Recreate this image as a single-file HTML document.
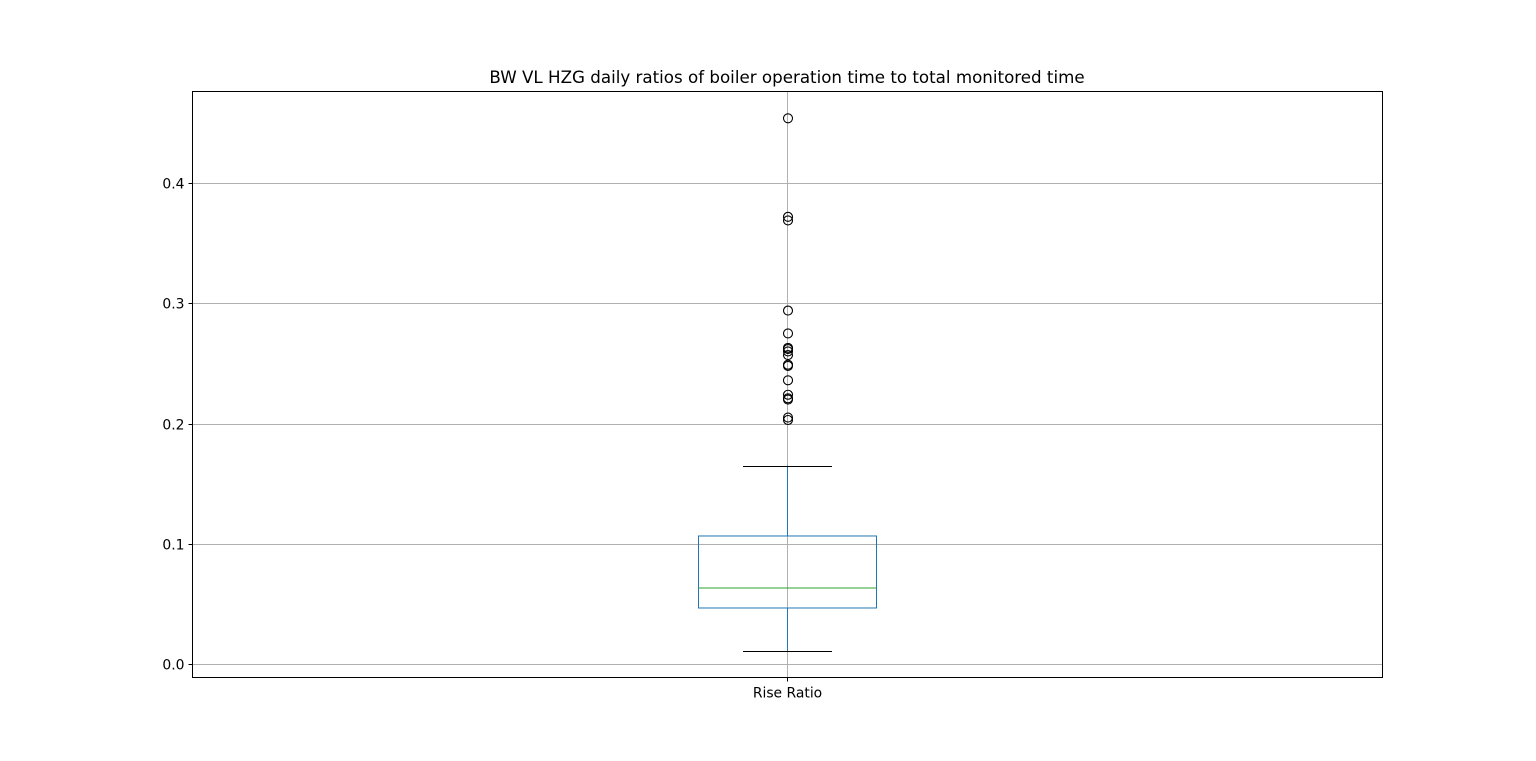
<!DOCTYPE html>
<html><head><meta charset="utf-8"><style>
body{margin:0;background:#fff;}
svg{display:block;font-family:"DejaVu Sans","Liberation Sans",sans-serif;}
</style></head><body>
<svg id="chart" width="1536" height="761">
<text x="787" y="83" text-anchor="middle" font-size="16.7">BW VL HZG daily ratios of boiler operation time to total monitored time</text>
<g id="grid"></g>
<g id="marks"></g>
<rect x="192.5" y="91.5" width="1190" height="586" fill="none" stroke="#000" stroke-width="1"/>
<g id="axes"></g>
</svg>
<script>
const categories = ["Rise Ratio"];
const yTicks = [0.0, 0.1, 0.2, 0.3, 0.4];
const yTickLabels = ["0.0", "0.1", "0.2", "0.3", "0.4"];
const whiskerLow = [0.011];
const q1 = [0.0466];
const median = [0.0632];
const q3 = [0.1065];
const whiskerHigh = [0.165];
const outliers = [0.454, 0.372, 0.369, 0.294, 0.275, 0.263, 0.262, 0.260, 0.257, 0.249, 0.248, 0.236, 0.224, 0.221, 0.220, 0.205, 0.203];

const NS = "http://www.w3.org/2000/svg";
const L = 192.5, R = 1382.5, T = 91.5, B = 677.5;
const y0px = 664, perUnit = 1202;
function yScale(v){ return y0px - v * perUnit; }
function xScale(i){ return L + (R - L) * (i + 0.5) / categories.length; }
function mk(tag, attrs, parent){ const e = document.createElementNS(NS, tag); for (const k in attrs) e.setAttribute(k, attrs[k]); parent.appendChild(e); return e; }

const grid = document.getElementById('grid'), marks = document.getElementById('marks'), axes = document.getElementById('axes');
yTicks.forEach((t, i) => {
  const y = Math.round(yScale(t)) + 0.5;
  const g = mk('line', {x1: L, x2: R, y1: y, y2: y, stroke: '#b0b0b0', 'stroke-width': 1}, grid);
  
  
  const tk = mk('line', {x1: L - 4, x2: L, y1: y, y2: y, stroke: '#000'}, axes);
  
  
  const lb = mk('text', {x: L - 8, y: y + 5, 'text-anchor': 'end', 'font-size': 13.9}, axes);
  lb.textContent = yTickLabels[i];
  
  
});
categories.forEach((c, i) => {
  const x = Math.round(xScale(i)) - 0.5;
  const vg = mk('line', {x1: x, x2: x, y1: T, y2: B, stroke: '#b0b0b0'}, grid);
  
  
  const tk = mk('line', {x1: x, x2: x, y1: B, y2: B + 4, stroke: '#000'}, axes);
  
  
  const lb = mk('text', {x: x, y: B + 20, 'text-anchor': 'middle', 'font-size': 13.9}, axes);
  lb.textContent = c;
  
  

  const blue = '#1f77b4';
  const w1 = mk('line', {x1: x, x2: x, y1: yScale(q3[i]), y2: yScale(whiskerHigh[i]), stroke: blue}, marks);
  
  
  const w2 = mk('line', {x1: x, x2: x, y1: yScale(q1[i]), y2: yScale(whiskerLow[i]), stroke: blue}, marks);
  
  
  const capH = mk('line', {x1: x - 44.5, x2: x + 44.5, y1: Math.round(yScale(whiskerHigh[i])) + 0.5, y2: Math.round(yScale(whiskerHigh[i])) + 0.5, stroke: '#000'}, marks);
  
  
  const capL = mk('line', {x1: x - 44.5, x2: x + 44.5, y1: Math.round(yScale(whiskerLow[i])) + 0.5, y2: Math.round(yScale(whiskerLow[i])) + 0.5, stroke: '#000'}, marks);
  
  
  const box = mk('rect', {x: x - 89, y: yScale(q3[i]), width: 178, height: yScale(q1[i]) - yScale(q3[i]), fill: 'none', stroke: blue}, marks);
  
  
  const md = mk('line', {x1: x - 89, x2: x + 89, y1: yScale(median[i]), y2: yScale(median[i]), stroke: '#2ca02c'}, marks);
  
  
  outliers.forEach(v => {
    const o = mk('circle', {cx: x + 0.5, cy: yScale(v), r: 4.5, fill: 'none', stroke: '#000', 'stroke-width': 1.1}, marks);
    
    
  });
});
</script>
</body></html>
